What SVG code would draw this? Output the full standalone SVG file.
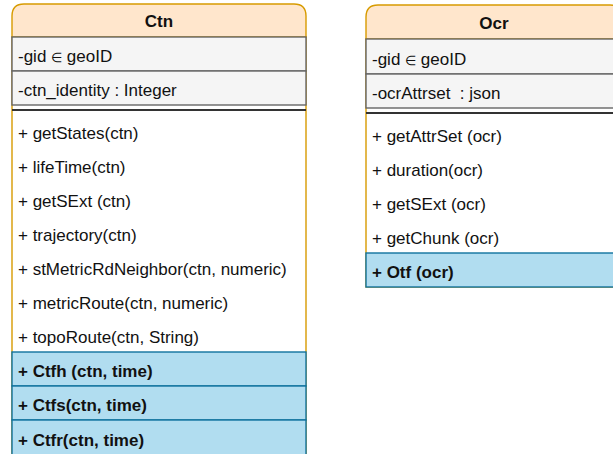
<svg xmlns="http://www.w3.org/2000/svg" width="613" height="454" viewBox="0 0 613 454">
<style>
text{font-family:"Liberation Sans",Arial,sans-serif;font-size:17px;fill:#111;white-space:pre}
.h{font-weight:bold;text-anchor:middle}
.b{font-weight:bold}
.el{font-size:13px}
.hd{fill:#ffe6cc;stroke:#d79b00;stroke-width:1.4}
.body{fill:#ffffff;stroke:#d79b00;stroke-width:1.4}
.attr{fill:#f5f5f5;stroke:#666666;stroke-width:1.4}
.blue{fill:#b1ddf0;stroke:#10739e;stroke-width:1.4}
.sep{stroke:#333333;stroke-width:2}
</style>
<rect width="613" height="454" fill="#ffffff"/>
<g id="Ctn">
<rect class="body" x="12" y="37" width="294" height="430"/>
<path class="hd" d="M12,37 V16 Q12,4 24,4 H294 Q306,4 306,16 V37 Z"/>
<text class="h" x="159" y="27">Ctn</text>
<rect class="attr" x="12" y="37" width="294" height="34"/>
<text x="18" y="62">-gid <tspan class="el">∈</tspan> geoID</text>
<rect class="attr" x="12" y="71" width="294" height="34"/>
<text x="18" y="96">-ctn_identity : Integer</text>
<line class="sep" x1="12" y1="110" x2="306" y2="110"/>
<text x="18" y="139">+ getStates(ctn)</text>
<text x="18" y="173">+ lifeTime(ctn)</text>
<text x="18" y="207">+ getSExt (ctn)</text>
<text x="18" y="241">+ trajectory(ctn)</text>
<text x="18" y="275">+ stMetricRdNeighbor(ctn, numeric)</text>
<text x="18" y="309">+ metricRoute(ctn, numeric)</text>
<text x="18" y="343">+ topoRoute(ctn, String)</text>
<rect class="blue" x="12" y="352" width="294" height="34"/>
<text class="b" x="18" y="377">+ Ctfh (ctn, time)</text>
<rect class="blue" x="12" y="386" width="294" height="34"/>
<text class="b" x="18" y="411">+ Ctfs(ctn, time)</text>
<rect class="blue" x="12" y="420" width="294" height="40"/>
<text class="b" x="18" y="445.5">+ Ctfr(ctn, time)</text>
</g>
<g id="Ocr">
<rect class="body" x="366" y="39" width="256" height="248"/>
<path class="hd" d="M366,39 V17 Q366,5 378,5 H610 Q622,5 622,17 V39 Z"/>
<text class="h" x="494" y="29">Ocr</text>
<rect class="attr" x="366" y="39" width="256" height="35"/>
<text x="372" y="65">-gid <tspan class="el">∈</tspan> geoID</text>
<rect class="attr" x="366" y="74" width="256" height="34"/>
<text x="372" y="99">-ocrAttrset  : json</text>
<line class="sep" x1="366" y1="113" x2="622" y2="113"/>
<text x="372" y="142">+ getAttrSet (ocr)</text>
<text x="372" y="176">+ duration(ocr)</text>
<text x="372" y="210">+ getSExt (ocr)</text>
<text x="372" y="244">+ getChunk (ocr)</text>
<rect class="blue" x="366" y="253" width="256" height="34"/>
<text class="b" x="372" y="278">+ Otf (ocr)</text>
</g>
<g id="connectors"></g>
</svg>
